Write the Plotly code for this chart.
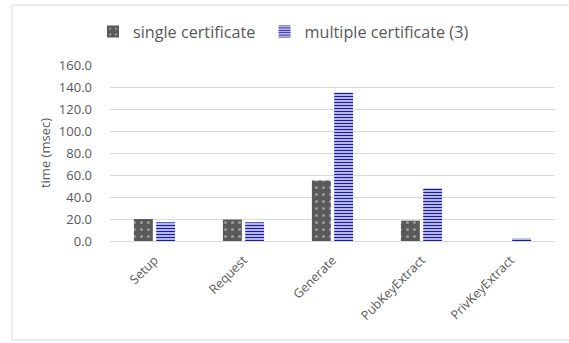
import plotly.graph_objects as go

categories = ["Setup", "Request", "Generate", "PubKeyExtract", "PrivKeyExtract"]
single_cert = [20.0, 19.5, 55.0, 18.5, 0.0]
multi_cert = [17.0, 17.0, 135.0, 48.0, 2.5]
series_names = ["single certificate\u00a0", "multiple certificate (3)"]
y_ticks = [0, 20, 40, 60, 80, 100, 120, 140, 160]
y_tick_text = [f"{v:.1f}" for v in y_ticks]

FONT = "Open Sans, Liberation Sans, sans-serif"
GRAY = "#595959"

L, R, T, B = 110, 14, 65, 102
W, H = 569, 343
PW, PH = W - L - R, H - T - B

fig = go.Figure()
fig.add_trace(go.Bar(
    name=series_names[0], x=categories, y=single_cert,
    marker=dict(color="#595959", line=dict(width=0),
                pattern=dict(shape=".", fgcolor="#d9d9d9", bgcolor="#595959",
                             size=7, solidity=0.15, fillmode="overlay")),
))
fig.add_trace(go.Bar(
    name=series_names[1], x=categories, y=multi_cert,
    marker=dict(color="#ffffff", line=dict(width=0),
                pattern=dict(shape="-", fgcolor="#1a1aa6", bgcolor="#ffffff",
                             size=3, solidity=0.55, fillmode="replace")),
))

fig.update_layout(
    width=W, height=H,
    margin=dict(l=L, r=R, t=T, b=B),
    paper_bgcolor="white", plot_bgcolor="white",
    barmode="group", bargap=0.5, bargroupgap=0.15,
    font=dict(family=FONT, size=13, color=GRAY),
    legend=dict(orientation="h", x=(93 - L) / PW, xanchor="left",
                y=(H - B - 32) / PH, yanchor="middle",
                font=dict(size=16.2, color=GRAY), itemwidth=30,
                traceorder="normal"),
    showlegend=True,
)
fig.update_xaxes(showgrid=False, showline=True, linecolor="#d9d9d9", linewidth=1,
                 tickangle=-45, ticks="", ticklabelstandoff=6,
                 tickfont=dict(size=12.5, color=GRAY))
fig.update_yaxes(range=[0, 160], tickvals=y_ticks, ticktext=y_tick_text,
                 showgrid=True, gridcolor="#d9d9d9", gridwidth=1, zeroline=False,
                 showline=False, ticks="", ticklen=0, ticklabelstandoff=17,
                 tickfont=dict(size=13, color=GRAY),
                 title=dict(text="time (msec)", font=dict(size=13, color=GRAY), standoff=5))

# outer chart border
fig.add_shape(type="rect", xref="paper", yref="paper",
              x0=(12 - L) / PW, x1=(600 - L) / PW,
              y0=((H - B) - 340) / PH, y1=((H - B) - 5) / PH,
              line=dict(color="#d9d9d9", width=1), fillcolor="rgba(0,0,0,0)", layer="below")

fig.write_html("out.html")
